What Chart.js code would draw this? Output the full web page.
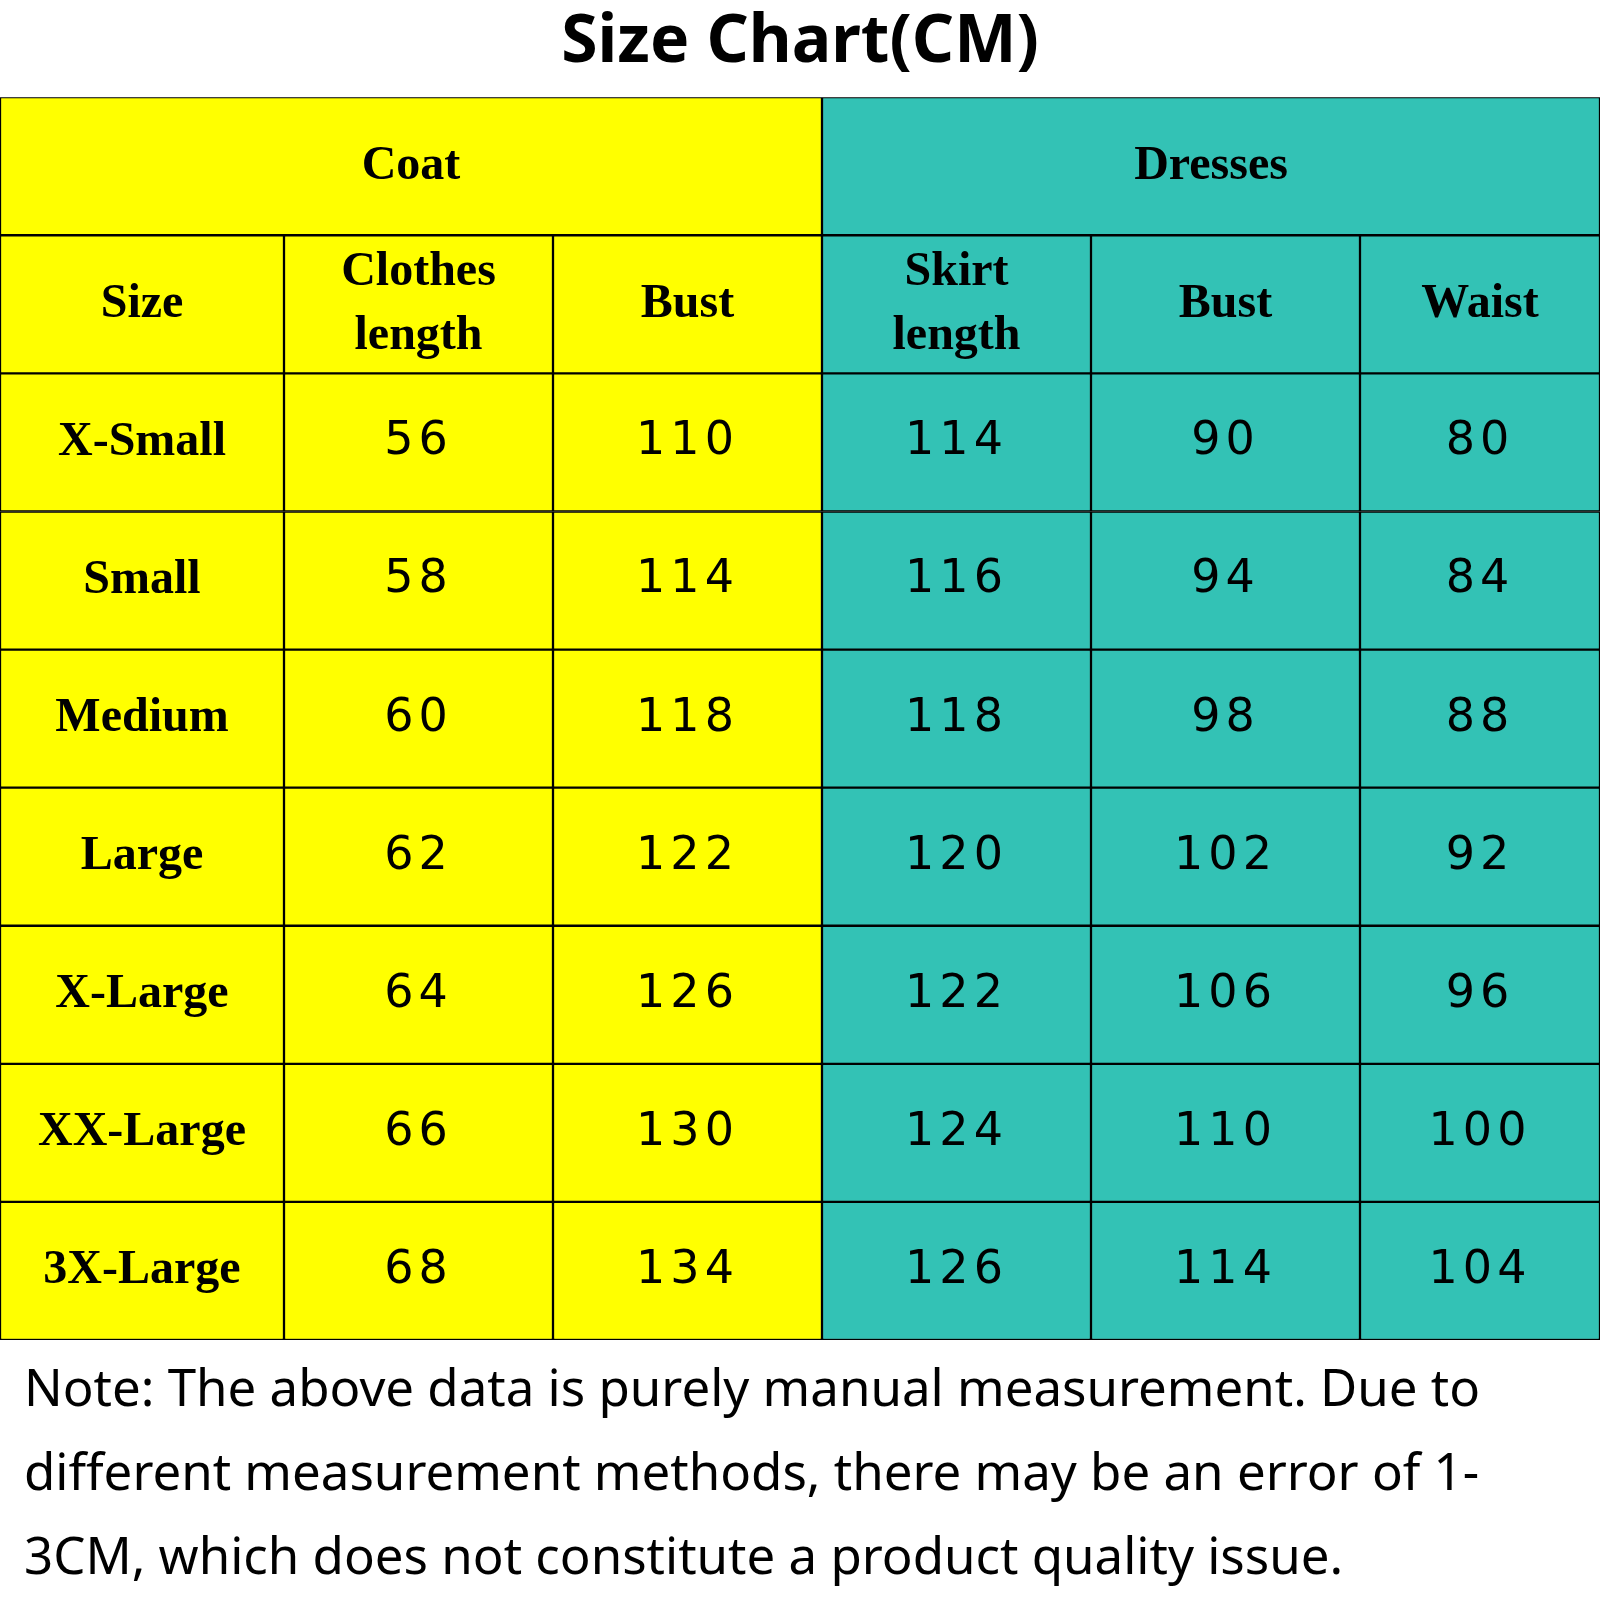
<!DOCTYPE html>
<html><head><meta charset="utf-8">
<script src="https://cdn.jsdelivr.net/npm/chart.js@4"></script>
<style>
body{margin:0;background:#fff;width:1600px;}
#note{font-family:"Noto Sans","Open Sans",sans-serif;font-size:51px;line-height:84px;padding:4px 0 0 24px;color:#000;}
</style></head><body>
<canvas id="c" width="1600" height="1340"></canvas>
<div id="note">Note: The above data is purely manual measurement. Due to different measurement methods, there may be an error of 1-3CM, which does not constitute a product quality issue.</div>
<script>
const title = "Size Chart(CM)";
const groups = ["Coat", "Dresses"];
const headers = [["Size"], ["Clothes", "length"], ["Bust"], ["Skirt", "length"], ["Bust"], ["Waist"]];
const sizes = ["X-Small", "Small", "Medium", "Large", "X-Large", "XX-Large", "3X-Large"];
const clothesLength = [56, 58, 60, 62, 64, 66, 68];
const coatBust = [110, 114, 118, 122, 126, 130, 134];
const skirtLength = [114, 116, 118, 120, 122, 124, 126];
const dressBust = [90, 94, 98, 102, 106, 110, 114];
const waist = [80, 84, 88, 92, 96, 100, 104];

// layout (column edges in px units of x scale)
const edges = [0, 284, 553, 822, 1091, 1360, 1600];
const groupSpan = [[0, 3], [3, 6]];
const YELLOW = "#ffff00", TEAL = "#33c2b5";
const colColors = [YELLOW, YELLOW, YELLOW, TEAL, TEAL, TEAL];

const rowLabels = ["g", "h", ...sizes];
const columns = [sizes, clothesLength, coatBust, skirtLength, dressBust, waist];

const datasets = [];
groupSpan.forEach((g, gi) => {
  datasets.push({
    data: rowLabels.map((r, ri) => ri === 0 ? [edges[g[0]], edges[g[1]]] : null),
    backgroundColor: gi === 0 ? YELLOW : TEAL, cellText: ri => ri === 0 ? [groups[gi]] : null
  });
});
columns.forEach((col, ci) => {
  datasets.push({
    data: rowLabels.map((r, ri) => ri === 0 ? null : [edges[ci], edges[ci + 1]]),
    backgroundColor: colColors[ci],
    cellText: ri => ri === 0 ? null : ri === 1 ? headers[ci] : [String(col[ri - 2])],
    colIndex: ci
  });
});
datasets.forEach(d => { d.borderColor = "#000"; d.borderWidth = 1.5; d.borderSkipped = false; d.grouped = false; d.barPercentage = 1; d.categoryPercentage = 1; });

const textPlugin = {
  id: "cellText",
  afterDatasetsDraw(chart) {
    const ctx = chart.ctx, ys = chart.scales.y, xs = chart.scales.x;
    ctx.save(); ctx.fillStyle = "#000"; ctx.textAlign = "center"; ctx.textBaseline = "middle";
    chart.data.datasets.forEach(ds => {
      ds.data.forEach((v, ri) => {
        if (!v) return;
        const lines = ds.cellText(ri); if (!lines) return;
        const cx = (xs.getPixelForValue(v[0]) + xs.getPixelForValue(v[1])) / 2;
        const cy = ys.getPixelForValue(ri);
        const isNum = ri >= 2 && ds.colIndex > 0;
        ctx.font = isNum ? "46px 'DejaVu Sans'" : "bold 48px 'Liberation Serif'";
        const lh = 64;
        lines.forEach((t, li) => {
          const y = cy + (li - (lines.length - 1) / 2) * lh;
          if (isNum) { ctx.letterSpacing = "5px"; } else { ctx.letterSpacing = "0px"; }
          ctx.fillText(t, cx, y);
        });
      });
    });
    ctx.restore();
  }
};

new Chart(document.getElementById("c"), {
  type: "bar",
  data: { labels: rowLabels, datasets },
  options: {
    indexAxis: "y", responsive: false, animation: false, devicePixelRatio: 1,
    layout: { padding: 0 },
    scales: {
      x: { type: "linear", min: 0, max: 1600, display: false },
      y: { type: "category", display: false, offset: true }
    },
    plugins: {
      legend: { display: false }, tooltip: { enabled: false },
      title: { display: true, text: title, color: "#000", font: { family: "Noto Sans", size: 66, weight: "bold" }, padding: { top: 4, bottom: 14 } }
    }
  },
  plugins: [textPlugin]
});
</script></body></html>
